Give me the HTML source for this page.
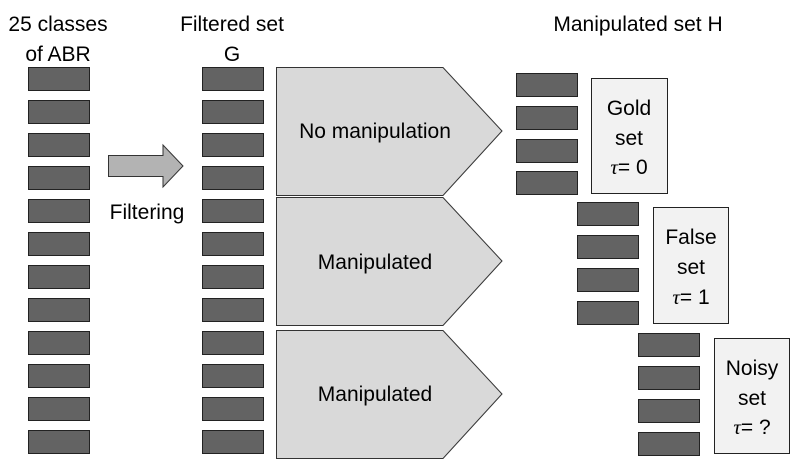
<!DOCTYPE html>
<html><head><meta charset="utf-8"><style>
body{margin:0;background:#fff}
</style></head><body>
<svg width="792" height="462" xmlns="http://www.w3.org/2000/svg" font-family="Liberation Sans, sans-serif" font-size="21" fill="#000">
<rect width="792" height="462" fill="#fff"/>
<g fill="#636363" stroke="#222" stroke-width="1">
<rect x="28.5" y="67.5" width="61" height="23"/><rect x="28.5" y="100.5" width="61" height="23"/><rect x="28.5" y="133.5" width="61" height="23"/><rect x="28.5" y="166.5" width="61" height="23"/><rect x="28.5" y="199.5" width="61" height="23"/><rect x="28.5" y="232.5" width="61" height="23"/><rect x="28.5" y="265.5" width="61" height="23"/><rect x="28.5" y="298.5" width="61" height="23"/><rect x="28.5" y="331.5" width="61" height="23"/><rect x="28.5" y="364.5" width="61" height="23"/><rect x="28.5" y="397.5" width="61" height="23"/><rect x="28.5" y="430.5" width="61" height="23"/>
<rect x="202.5" y="67.5" width="61" height="23"/><rect x="202.5" y="100.5" width="61" height="23"/><rect x="202.5" y="133.5" width="61" height="23"/><rect x="202.5" y="166.5" width="61" height="23"/><rect x="202.5" y="199.5" width="61" height="23"/><rect x="202.5" y="232.5" width="61" height="23"/><rect x="202.5" y="265.5" width="61" height="23"/><rect x="202.5" y="298.5" width="61" height="23"/><rect x="202.5" y="331.5" width="61" height="23"/><rect x="202.5" y="364.5" width="61" height="23"/><rect x="202.5" y="397.5" width="61" height="23"/><rect x="202.5" y="430.5" width="61" height="23"/>
<rect x="516.5" y="73.5" width="61" height="23"/><rect x="516.5" y="106.5" width="61" height="23"/><rect x="516.5" y="139.5" width="61" height="23"/><rect x="516.5" y="171.5" width="61" height="23"/>
<rect x="577.5" y="202.5" width="61" height="23"/><rect x="577.5" y="235.5" width="61" height="23"/><rect x="577.5" y="268.5" width="61" height="23"/><rect x="577.5" y="301.5" width="61" height="23"/>
<rect x="638.5" y="333.5" width="61" height="23"/><rect x="638.5" y="366.5" width="61" height="23"/><rect x="638.5" y="399.5" width="61" height="23"/><rect x="638.5" y="432.5" width="61" height="23"/>
</g>
<g fill="#d9d9d9" stroke="#333" stroke-width="1">
<polygon points="276.5,67.5 443,67.5 502,131 443,195.5 276.5,195.5"/>
<polygon points="276.5,197.5 443,197.5 502,261 443,325.5 276.5,325.5"/>
<polygon points="276.5,330.5 443,330.5 502,394 443,458.5 276.5,458.5"/>
<polygon fill="#b3b3b3" points="108.5,155.5 163,155.5 163,145 183,166 163,187 163,176.5 108.5,176.5"/>
</g>
<g fill="#f2f2f2" stroke="#222" stroke-width="1">
<rect x="591.5" y="78.5" width="76" height="115"/>
<rect x="653.5" y="207.5" width="75" height="116"/>
<rect x="714.5" y="338.5" width="75" height="115"/>
</g>
<g text-anchor="middle">
<text x="58" y="31">25 classes</text>
<text x="58" y="61">of ABR</text>
<text x="232" y="31">Filtered set</text>
<text x="232" y="61">G</text>
<text x="638" y="31">Manipulated set H</text>
<text x="147" y="219">Filtering</text>
<text x="375" y="138">No manipulation</text>
<text x="375" y="269">Manipulated</text>
<text x="375" y="401">Manipulated</text>
<text x="629" y="115">Gold</text>
<text x="629" y="145">set</text>
<text x="629" y="174"><tspan font-family="Liberation Serif, serif" font-style="italic">τ</tspan>= 0</text>
<text x="691" y="244">False</text>
<text x="691" y="274">set</text>
<text x="691" y="304"><tspan font-family="Liberation Serif, serif" font-style="italic">τ</tspan>= 1</text>
<text x="752" y="375">Noisy</text>
<text x="752" y="405">set</text>
<text x="752" y="434"><tspan font-family="Liberation Serif, serif" font-style="italic">τ</tspan>= ?</text>
</g>
</svg>
</body></html>
